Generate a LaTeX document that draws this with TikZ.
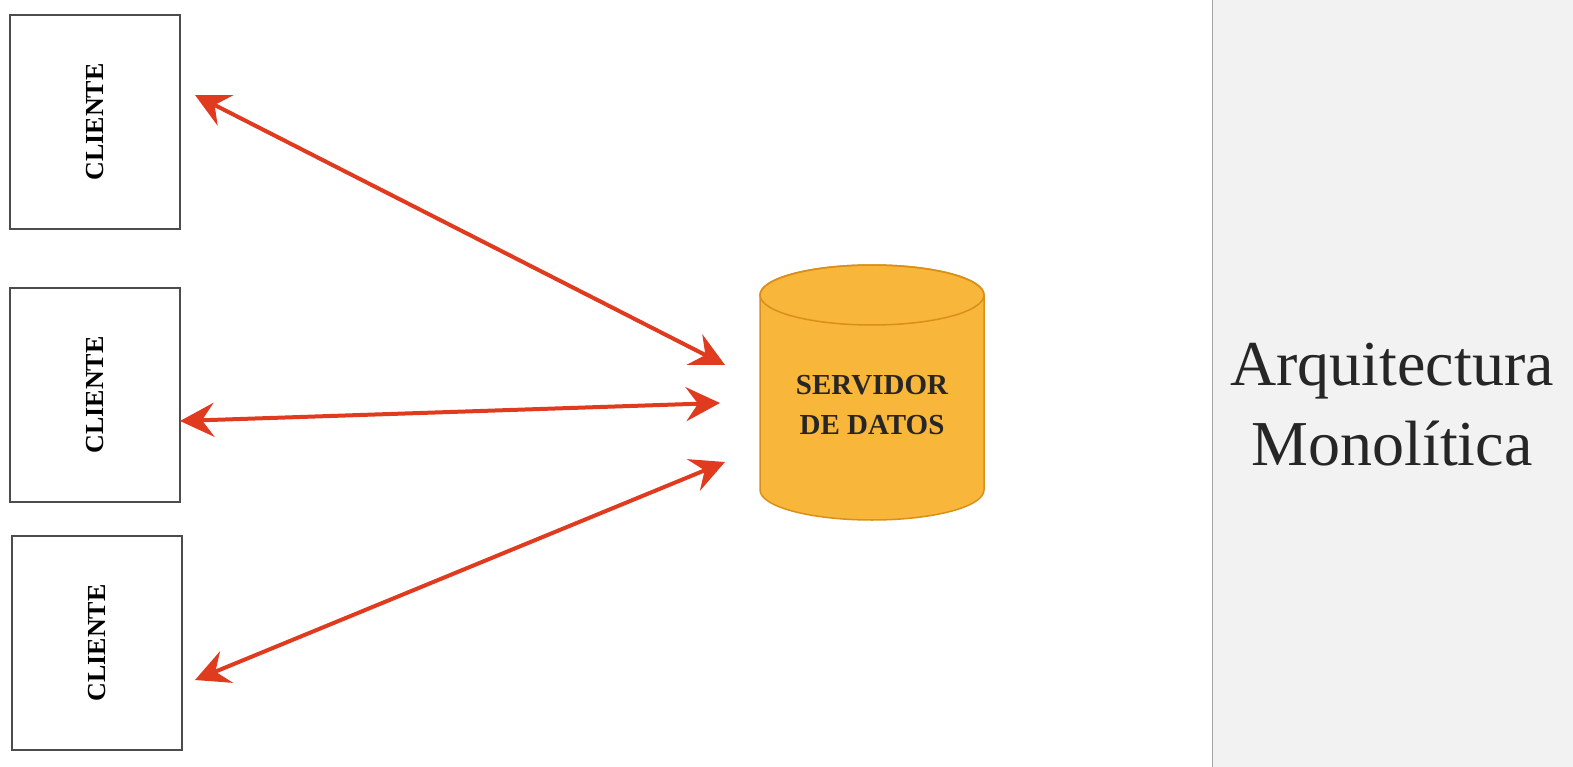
\documentclass[tikz,border=0pt]{standalone}
\usepackage{fontspec}
\setmainfont{Liberation Serif}
\usetikzlibrary{arrows.meta}
\definecolor{arr}{HTML}{E03A1F}
\definecolor{cyl}{HTML}{F8B63A}
\definecolor{cylline}{HTML}{D98F1A}
\tikzset{
 client/.style={draw=black!70,line width=1.2pt,minimum width=170pt,minimum height=214pt,inner sep=0pt,fill=white},
 clabel/.style={rotate=90,font=\bfseries\fontsize{26}{28}\selectfont},
 biarrow/.style={arr,line width=4pt,{Stealth[length=34pt,width=34pt,inset=12pt]}-{Stealth[length=34pt,width=34pt,inset=12pt]}}
}
\begin{document}
\begin{tikzpicture}[x=1pt,y=-1pt]
\useasboundingbox (0,0) rectangle (1573,767);
\fill[white] (0,0) rectangle (1573,767);
\fill[black!5] (1212,0) rectangle (1573,767);
\draw[black!35,line width=1pt] (1212,0) -- (1212,767);
\node[client] (c1) at (95,122) {};
\node[clabel] at (c1) {CLIENTE};
\node[client] (c2) at (95,395) {};
\node[clabel] at (c2) {CLIENTE};
\node[client] (c3) at (97,643) {};
\node[clabel] at (c3) {CLIENTE};
\draw[cylline,line width=1.5pt,fill=cyl] (760,295) -- (760,490) arc[start angle=180,end angle=360,x radius=112pt,y radius=30pt] -- (984,295) arc[start angle=0,end angle=180,x radius=112pt,y radius=30pt] -- cycle;
\draw[cylline,line width=1.5pt] (872,295) ellipse [x radius=112pt,y radius=30pt];
\node[align=center,font=\bfseries\fontsize{29}{40}\selectfont,text=black!85] (dbt) at (872,405) {SERVIDOR\\DE DATOS};
\coordinate (a1) at (195,95); \coordinate (b1) at (725,365);
\coordinate (a2) at (180,421); \coordinate (b2) at (720,403);
\coordinate (a3) at (195,680); \coordinate (b3) at (725,462);
\draw[biarrow] (a1) -- (b1);
\draw[biarrow] (a2) -- (b2);
\draw[biarrow] (a3) -- (b3);
\node[align=center,font=\fontsize{64}{80}\selectfont,text=black!85] (title) at (1392,405) {Arquitectura\\Monolítica};
\end{tikzpicture}
\end{document}
